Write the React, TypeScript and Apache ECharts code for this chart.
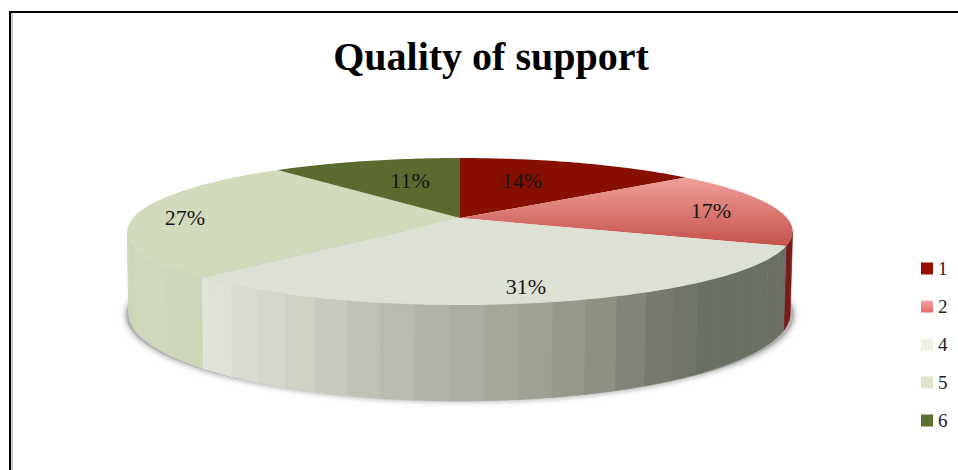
import React, { useEffect, useRef } from "react";
import * as echarts from "echarts";

const chartTitle = "Quality of support";
const categories = ["1", "2", "4", "5", "6"];
const shares = [14, 17, 31, 27, 11];

const FONT = '"Liberation Serif", serif';
const topColors: any[] = [
  "#870f00",
  {
    type: "linear", x: 0, y: 0, x2: 0, y2: 1,
    colorStops: [{ offset: 0, color: "#f0a09a" }, { offset: 1, color: "#c4524a" }],
  },
  "#dde0d5",
  "#d2dabc",
  "#5b6b2f",
];
const legendColors: any[] = [
  "#960e00",
  {
    type: "linear", x: 0, y: 0, x2: 0, y2: 1,
    colorStops: [{ offset: 0, color: "#f5a5a2" }, { offset: 1, color: "#e26a68" }],
  },
  "#eef2e4",
  "#dfe6c8",
  "#5d7031",
];
const labelAnchors = [
  [522, 180], [711, 210], [526, 286], [185, 217], [410, 180],
];
const frontStops: [number, number[]][] = [
  [201, [0xe2, 0xe5, 0xda]],
  [300, [0xce, 0xd1, 0xc4]],
  [400, [0xb8, 0xba, 0xaf]],
  [470, [0xa9, 0xac, 0xa0]],
  [530, [0xa0, 0xa2, 0x95]],
  [600, [0x8d, 0x90, 0x83]],
  [660, [0x76, 0x79, 0x6d]],
  [710, [0x6b, 0x70, 0x65]],
  [800, [0x6b, 0x70, 0x65]],
];

// perspective mapping of the pie disc onto the page
const CX = 460, CY = 218, B = 327, A = 71, K = -0.1837;
const project = (deg: number) => {
  const t = (deg * Math.PI) / 180;
  const u = Math.sin(t), v = -Math.cos(t);
  const d = 1 + K * v;
  return [CX + (B * u) / d, CY + (A * v) / d];
};
const lower = (p: number[]) => {
  const ex = (p[0] - 460) / 333, ey = (p[1] - 231.5) / 73.5;
  return [459.5 + 331 * ex, 313 + 88 * ey];
};
const frontColor = (x: number) => {
  for (let i = 1; i < frontStops.length; i++) {
    if (x <= frontStops[i][0]) {
      const [x0, c0] = frontStops[i - 1];
      const [x1, c1] = frontStops[i];
      const f = Math.max(0, (x - x0) / (x1 - x0));
      return `rgb(${c0.map((c, j) => Math.round(c + (c1[j] - c) * f)).join(",")})`;
    }
  }
  return "#6b7065";
};
const sideColor = (i: number, x: number) => {
  if (i === 1) return "#7a1a18";
  if (i === 2) return frontColor(x);
  if (i === 3) return Math.round(x / 30) % 2 ? "#d0d8bc" : "#cdd6b8";
  return "#888";
};
// angle where the rim turns from back to front on each side
const FRONT_START = 100.6, FRONT_END = 259.4;

export default function App() {
  const ref = useRef<HTMLDivElement>(null);
  useEffect(() => {
    document.body.style.margin = "0";
    const chart = echarts.init(ref.current!, undefined, { renderer: "svg" });
    const total = shares.reduce((a, b) => a + b, 0);
    const makeRender = (i: number) => () => {
      const before = shares.slice(0, i).reduce((a, b) => a + b, 0);
      const a0 = (before / total) * 360;
      const a1 = ((before + shares[i]) / total) * 360;
      const children: any[] = [];
      // visible side wall
      const s0 = Math.max(a0, FRONT_START), s1 = Math.min(a1, FRONT_END);
      if (s1 > s0) {
        const STEP = 5;
        for (let a = s0; a < s1 - 1e-6; a += STEP) {
          const b = Math.min(a + STEP, s1);
          const pts: number[][] = [];
          const low: number[][] = [];
          for (let q = a; q <= b + 1e-6; q += 1) {
            const p = project(Math.min(q, b));
            pts.push(p);
            low.unshift(lower(p));
          }
          const pb = project(b);
          pts.push(pb);
          low.unshift(lower(pb));
          const mid = project((a + b) / 2);
          const col = sideColor(i, mid[0]);
          children.push({
            type: "polygon",
            shape: { points: pts.concat(low) },
            style: { fill: col, stroke: col, lineWidth: 0.6 },
          });
        }
      }
      // top face
      const face: number[][] = [[CX, CY]];
      for (let q = a0; q < a1; q += 1) face.push(project(q));
      face.push(project(a1));
      children.push({
        type: "polygon",
        shape: { points: face },
        style: { fill: topColors[i] },
      });
      return { type: "group", children };
    };
    const makeLabels = () => ({
      type: "group",
      children: shares.map((v, i) => ({
        type: "text",
        x: labelAnchors[i][0],
        y: labelAnchors[i][1],
        style: {
          text: `${v}%`,
          font: `22px ${FONT}`,
          fill: "#161616",
          align: "center",
          verticalAlign: "middle",
        },
      })),
    });
    chart.setOption({
      animation: false,
      backgroundColor: "#fff",
      title: {
        text: chartTitle,
        left: 486,
        top: 31,
        textAlign: "center",
        textStyle: { fontFamily: FONT, fontSize: 40, fontWeight: "bold", color: "#000" },
      },
      legend: {
        orient: "vertical",
        left: 916,
        top: 254,
        itemWidth: 12,
        itemHeight: 12,
        itemGap: 19,
        icon: "rect",
        selectedMode: false,
        textStyle: { fontFamily: FONT, fontSize: 19, color: "#222" },
        data: categories.map((name, i) => ({ name, itemStyle: { color: legendColors[i] } })),
      },
      graphic: {
        elements: [
          { type: "rect", z: 0, shape: { x: 11, y: 13, width: 2, height: 457 }, style: { fill: "#c8c8c8" } },
          { type: "rect", z: 0, shape: { x: 9, y: 11, width: 2, height: 459 }, style: { fill: "#000" } },
          { type: "rect", z: 0, shape: { x: 9, y: 11, width: 949, height: 2 }, style: { fill: "#000" } },
          {
            type: "ellipse",
            z: 0,
            shape: { cx: 460, cy: 315, rx: 334, ry: 86 },
            style: { fill: "#b4b4b4", shadowBlur: 6, shadowColor: "rgba(0,0,0,0.4)" },
          },
        ],
      },
      series: [
        ...categories.map((name, i) => ({
          type: "custom",
          name,
          coordinateSystem: "none",
          silent: true,
          itemStyle: { color: legendColors[i] },
          data: [shares[i]],
          renderItem: makeRender(i),
        })),
        {
          type: "custom",
          coordinateSystem: "none",
          silent: true,
          z: 5,
          data: [0],
          renderItem: makeLabels,
        },
      ],
    });
    return () => chart.dispose();
  }, []);
  return <div ref={ref} style={{ position: "fixed", left: 0, top: 0, width: 958, height: 470 }} />;
}
